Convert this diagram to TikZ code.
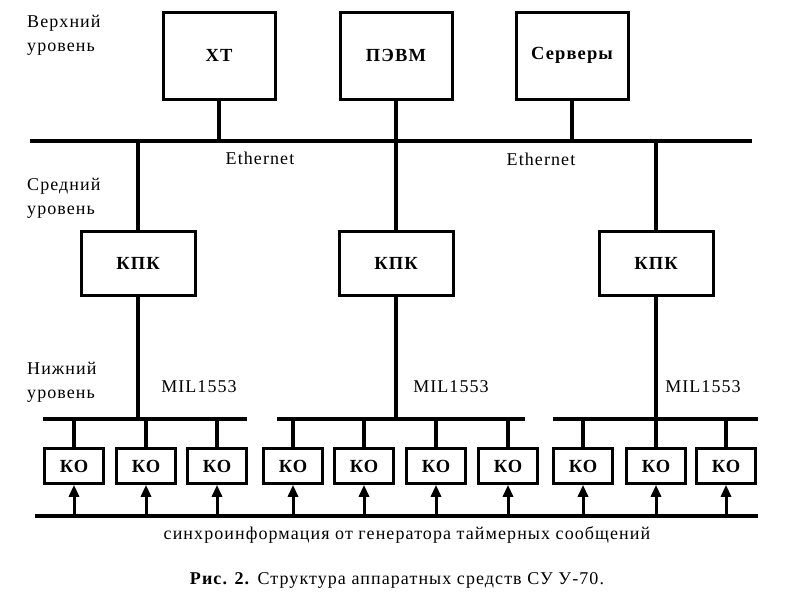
\documentclass[tikz,border=0pt]{standalone}
\usepackage{fontspec}
\setmainfont{Liberation Serif}[LetterSpace=6]
\usetikzlibrary{arrows.meta}

\begin{document}
\begin{tikzpicture}[x=1pt,y=-1pt,
  top_box/.style={draw,line width=3pt,minimum width=112pt,minimum height=87pt,font=\fontsize{18.5}{20}\selectfont\bfseries},
  kpk_box/.style={draw,line width=3pt,minimum width=114pt,minimum height=64pt,font=\fontsize{18.5}{20}\selectfont\bfseries},
  ko_box/.style={draw,line width=2.6pt,minimum width=59pt,minimum height=35pt,inner sep=0pt,font=\fontsize{18.5}{20}\selectfont\bfseries},
  bus/.style={line width=4pt},
  stub/.style={line width=3.4pt},
  sync_arrow/.style={line width=3pt,-{Triangle[width=10pt,length=12pt]}},
  label_text/.style={font=\fontsize{18}{24}\selectfont,align=left,inner sep=0pt}]
  \useasboundingbox (0,0) rectangle (800,600);

  % levels
  \node[label_text,anchor=north west] (upper) at (27,15) {Верхний\\уровень};
  \node[label_text,anchor=north west] (middle) at (27,178) {Средний\\уровень};
  \node[label_text,anchor=north west] (lower) at (27,362) {Нижний\\уровень};

  % top level
  \node[top_box] (xt) at (219,55.5) {ХТ};
  \node[top_box] (pevm) at (396,55.5) {ПЭВМ};
  \node[top_box] (srv) at (572,55.5) {Серверы};

  \coordinate (eth w) at (30,141);
  \coordinate (eth e) at (752,141);
  \draw[bus] (eth w) -- (eth e);
  \node[label_text] (eth1) at (260,158) {Ethernet};
  \node[label_text] (eth2) at (541,159) {Ethernet};

  \draw[stub] (xt.south) -- (xt.south |- eth w);
  \draw[stub] (pevm.south) -- (pevm.south |- eth w);
  \draw[stub] (srv.south) -- (srv.south |- eth w);

  % middle level
  \node[kpk_box] (kpk1) at (138,263) {КПК};
  \node[kpk_box] (kpk2) at (396,263) {КПК};
  \node[kpk_box] (kpk3) at (656,263) {КПК};

  \draw[stub] (kpk1.north |- eth w) -- (kpk1.north);
  \draw[stub] (kpk2.north |- eth w) -- (kpk2.north);
  \draw[stub] (kpk3.north |- eth w) -- (kpk3.north);

  % lower level
  \coordinate (mil1 w) at (43,419);
  \coordinate (mil1 e) at (247,419);
  \coordinate (mil2 w) at (277,419);
  \coordinate (mil2 e) at (525,419);
  \coordinate (mil3 w) at (553,419);
  \coordinate (mil3 e) at (758,419);
  \draw[bus] (mil1 w) -- (mil1 e);
  \draw[bus] (mil2 w) -- (mil2 e);
  \draw[bus] (mil3 w) -- (mil3 e);
  \node[label_text] (mil1) at (199,387) {MIL1553};
  \node[label_text] (mil2) at (451,387) {MIL1553};
  \node[label_text] (mil3) at (703,387) {MIL1553};

  \node[ko_box] (ko1) at (74,466) {КО};
  \node[ko_box] (ko2) at (146,466) {КО};
  \node[ko_box] (ko3) at (217,466) {КО};
  \node[ko_box] (ko4) at (293,466) {КО};
  \node[ko_box] (ko5) at (364,466) {КО};
  \node[ko_box] (ko6) at (436,466) {КО};
  \node[ko_box] (ko7) at (508,466) {КО};
  \node[ko_box] (ko8) at (583,466) {КО};
  \node[ko_box] (ko9) at (656,466) {КО};
  \node[ko_box] (ko10) at (726,466) {КО};

  \draw[stub] (kpk1.south) -- (kpk1.south |- mil1 w);
  \draw[stub] (kpk2.south) -- (kpk2.south |- mil2 w);
  \draw[stub] (kpk3.south) -- (ko9.north);

  \draw[stub] (ko1.north |- mil1 w) -- (ko1.north);
  \draw[stub] (ko2.north |- mil1 w) -- (ko2.north);
  \draw[stub] (ko3.north |- mil1 w) -- (ko3.north);
  \draw[stub] (ko4.north |- mil2 w) -- (ko4.north);
  \draw[stub] (ko5.north |- mil2 w) -- (ko5.north);
  \draw[stub] (ko6.north |- mil2 w) -- (ko6.north);
  \draw[stub] (ko7.north |- mil2 w) -- (ko7.north);
  \draw[stub] (ko8.north |- mil3 w) -- (ko8.north);
  \draw[stub] (ko10.north |- mil3 w) -- (ko10.north);

  % synchronisation
  \coordinate (sync w) at (35,516);
  \coordinate (sync e) at (758,516);
  \draw[bus] (sync w) -- (sync e);
  \draw[sync_arrow] (ko1.south |- sync w) -- (ko1.south);
  \draw[sync_arrow] (ko2.south |- sync w) -- (ko2.south);
  \draw[sync_arrow] (ko3.south |- sync w) -- (ko3.south);
  \draw[sync_arrow] (ko4.south |- sync w) -- (ko4.south);
  \draw[sync_arrow] (ko5.south |- sync w) -- (ko5.south);
  \draw[sync_arrow] (ko6.south |- sync w) -- (ko6.south);
  \draw[sync_arrow] (ko7.south |- sync w) -- (ko7.south);
  \draw[sync_arrow] (ko8.south |- sync w) -- (ko8.south);
  \draw[sync_arrow] (ko9.south |- sync w) -- (ko9.south);
  \draw[sync_arrow] (ko10.south |- sync w) -- (ko10.south);
  \node[label_text] (sync) at (407,535) {синхроинформация от генератора таймерных сообщений};

  % caption
  \node[label_text] (caption) at (397,580) {\textbf{Рис. 2.} Структура аппаратных средств СУ У-70.};
\end{tikzpicture}
\end{document}
